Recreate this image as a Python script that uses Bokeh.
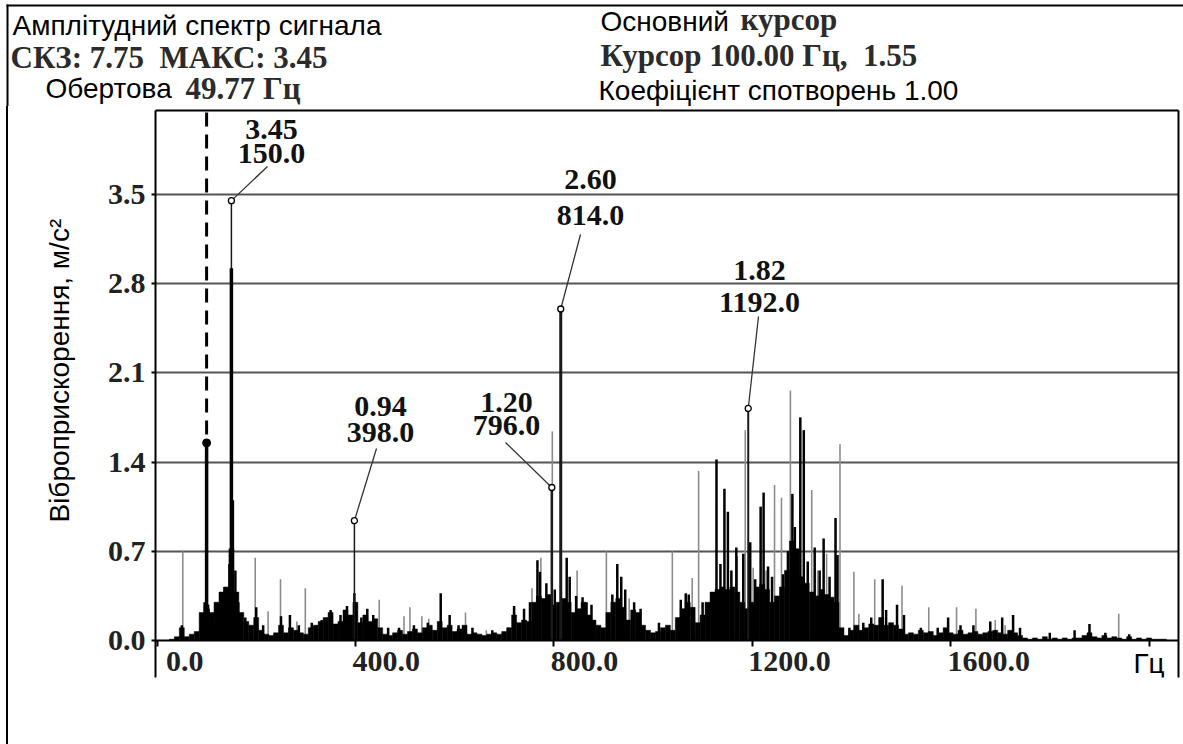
from bokeh.plotting import figure
from bokeh.layouts import column
from bokeh.models import (LinearAxis, FixedTicker, PrintfTickFormatter, Range1d,
                          ColumnDataSource)
from bokeh.core.properties import value
from bokeh.embed import file_html
from bokeh.resources import INLINE

# ---------------- data ----------------
title_text = "Амплітудний спектр сигнала"
skz = 7.75
maks = 3.45
obert_hz = 49.77
cursor_hz = 100.0
cursor_amp = 1.55
koef = 1.00
y_title = "Віброприскорення, м/с²"
x_unit = "Гц"

ytick_values = [0.0, 0.7, 1.4, 2.1, 2.8, 3.5]
grid_values = [0.7, 1.4, 2.1, 2.8, 3.5]
xtick_values = [0, 400, 800, 1200, 1600]
xtick_labels = ["0.0", "400.0", "800.0", "1200.0", "1600.0"]
xtick_marks = [0, 400, 800, 1200, 1600, 2000]

# dense low-level spectrum (black), every 10 Hz from 0 Hz
floor_hz = list(range(0, 2050, 10))
floor_amp = [
    0.00, 0.00, 0.00, 0.01, 0.03, 0.10, 0.03, 0.05, 0.07, 0.22,
    0.28, 0.22, 0.30, 0.38, 0.42, 0.72, 0.38, 0.22, 0.15, 0.12,
    0.18, 0.08, 0.05, 0.04, 0.06, 0.12, 0.06, 0.10, 0.08, 0.06,
    0.05, 0.10, 0.12, 0.15, 0.18, 0.22, 0.13, 0.15, 0.24, 0.20,
    0.30, 0.14, 0.20, 0.15, 0.17, 0.10, 0.05, 0.04, 0.06, 0.08,
    0.05, 0.07, 0.09, 0.06, 0.10, 0.12, 0.08, 0.15, 0.10, 0.12,
    0.07, 0.09, 0.12, 0.05, 0.06, 0.05, 0.04, 0.05, 0.06, 0.05,
    0.07, 0.10, 0.20, 0.14, 0.16, 0.15, 0.30, 0.35, 0.33, 0.36,
    0.28, 0.30, 0.33, 0.30, 0.22, 0.25, 0.30, 0.20, 0.16, 0.12,
    0.10, 0.22, 0.30, 0.33, 0.26, 0.16, 0.24, 0.22, 0.12, 0.08,
    0.06, 0.07, 0.10, 0.12, 0.08, 0.18, 0.25, 0.30, 0.26, 0.14,
    0.20, 0.30, 0.38, 0.40, 0.42, 0.40, 0.42, 0.38, 0.30, 0.25,
    0.30, 0.42, 0.44, 0.40, 0.30, 0.35, 0.42, 0.55, 0.78, 0.72,
    0.50, 0.45, 0.38, 0.35, 0.40, 0.36, 0.34, 0.30, 0.10, 0.04,
    0.08, 0.12, 0.08, 0.10, 0.13, 0.12, 0.18, 0.12, 0.14, 0.12,
    0.09, 0.05, 0.06, 0.05, 0.08, 0.06, 0.07, 0.04, 0.06, 0.10,
    0.06, 0.05, 0.08, 0.05, 0.06, 0.07, 0.05, 0.06, 0.07, 0.08,
    0.06, 0.05, 0.08, 0.06, 0.04, 0.02, 0.01, 0.02, 0.01, 0.03,
    0.01, 0.02, 0.01, 0.02, 0.01, 0.02, 0.02, 0.04, 0.06, 0.03,
    0.02, 0.04, 0.02, 0.03, 0.02, 0.01, 0.03, 0.01, 0.02, 0.01,
    0.02, 0.01, 0.01, 0.01, 0.00,
]

# individual black spectral lines
black_hz = [50, 96, 104, 118, 126, 136, 146, 153, 158, 164,
            178, 200, 214, 250, 268, 286, 312, 332, 350, 370,
            383, 398, 412, 424, 436, 466, 488, 518, 546, 572,
            590, 608, 636, 676, 708, 720, 740, 752, 767, 772,
            785, 802, 826, 832, 845, 858, 866, 876, 918, 928,
            936, 944, 962, 975, 1012, 1056, 1066, 1072, 1100, 1128,
            1136, 1144, 1151, 1158, 1168, 1182, 1196, 1206, 1217, 1223,
            1232, 1240, 1262, 1272, 1281, 1286, 1297, 1304, 1312, 1326,
            1336, 1344, 1356, 1368, 1372, 1396, 1424, 1440, 1463, 1470,
            1492, 1506, 1540, 1574, 1595, 1620, 1646, 1680, 1704, 1726,
            1740, 1800, 1850, 1880, 1912, 1960]
black_amp = [0.12, 0.30, 0.25, 0.10, 0.20, 0.42, 0.60, 1.10, 0.55, 0.30,
             0.18, 0.26, 0.12, 0.19, 0.20, 0.12, 0.14, 0.16, 0.24, 0.20,
             0.27, 0.37, 0.18, 0.25, 0.20, 0.10, 0.10, 0.12, 0.14, 0.37,
             0.20, 0.12, 0.10, 0.08, 0.10, 0.27, 0.25, 0.30, 0.63, 0.54,
             0.45, 0.40, 0.65, 0.50, 0.35, 0.34, 0.30, 0.28, 0.36, 0.60,
             0.50, 0.40, 0.30, 0.25, 0.14, 0.32, 0.37, 0.36, 0.30, 1.42,
             0.60, 1.19, 1.01, 0.55, 0.73, 0.68, 0.77, 0.48, 1.05, 1.16,
             0.58, 0.50, 0.52, 0.70, 1.15, 0.89, 1.75, 1.65, 0.62, 0.73,
             0.55, 0.80, 0.50, 0.96, 0.67, 0.10, 0.14, 0.18, 0.48, 0.24,
             0.28, 0.20, 0.10, 0.10, 0.18, 0.12, 0.12, 0.15, 0.18, 0.20,
             0.10, 0.06, 0.08, 0.13, 0.06, 0.05]

# lines of the second (grey) trace
gray_hz = [52, 198, 224, 249, 282, 299, 448, 498, 510, 534,
           548, 622, 664, 719, 756, 774, 797, 847, 906, 952,
           1039, 1079, 1092, 1170, 1186, 1202, 1228, 1245, 1259, 1277,
           1320, 1332, 1350, 1377, 1405, 1415, 1447, 1502, 1556, 1612,
           1651, 1690, 1710, 1939]
gray_amp = [0.70, 0.65, 0.23, 0.48, 0.15, 0.41, 0.32, 0.19, 0.26, 0.19,
            0.17, 0.22, 0.08, 0.25, 0.41, 0.65, 1.64, 0.55, 0.70, 0.33,
            0.70, 0.49, 1.33, 0.66, 1.65, 0.57, 0.55, 1.22, 1.12, 1.96,
            1.18, 0.55, 0.68, 1.54, 0.54, 0.21, 0.48, 0.43, 0.26, 0.26,
            0.25, 0.16, 0.12, 0.21]

# bold main lines
main_hz = [100, 150]
main_amp = [1.55, 2.92]

# labelled peaks
peak_hz = [150, 398, 796, 814, 1192]
peak_amp = [3.45, 0.94, 1.20, 2.60, 1.82]

# ---------------- layout ----------------
W = 1183
HEAD_H = 106
MAIN_H = 744 - HEAD_H
FRAME_L, FRAME_R, FRAME_T, FRAME_B = 155, 1178, 110, 677   # page pixels
X0_IMG, PX_PER_HZ = 156.5, 0.496
Y0_IMG, PX_PER_AMP = 640.0, 127.5


def hz_at(px):
    return (px - X0_IMG) / PX_PER_HZ


def amp_at(py):
    return (Y0_IMG - py) / PX_PER_AMP


SERIF = "Liberation Serif"
SANS = "Liberation Sans"
FS_SERIF = "30px"
FS_HEAD_SERIF = "31px"
FS_SANS = "28px"

# ---------- header figure (page pixel coordinates) ----------
h = figure(width=W, height=HEAD_H, x_range=Range1d(0, W), y_range=Range1d(HEAD_H, 0),
           output_backend="svg", toolbar_location=None,
           x_axis_location=None, y_axis_location=None,
           min_border=0)
h.frame_align = False
h.outline_line_color = None
h.xgrid.visible = False
h.ygrid.visible = False
h.segment(x0=[6, 7], y0=[5, 4], x1=[W, 7], y1=[5, HEAD_H], line_color="black",
          line_width=2)

headers = [
    (title_text, SANS, "normal", FS_SANS, "black", 12, 25),
    (f"СКЗ: {skz:.2f}\u00a0 МАКС: {maks:.2f}", SERIF, "bold", FS_HEAD_SERIF, "#2b2b2b", 10, 57),
    ("Обертова", SANS, "normal", FS_SANS, "black", 45, 88),
    (f"{obert_hz:.2f} Гц", SERIF, "bold", FS_HEAD_SERIF, "#2b2b2b", 185, 88),
    ("Основний", SANS, "normal", FS_SANS, "black", 600, 21),
    ("курсор", SERIF, "bold", FS_HEAD_SERIF, "#2b2b2b", 740, 19),
    (f"Курсор {cursor_hz:.2f} Гц,\u00a0 {cursor_amp:.2f}", SERIF, "bold", FS_HEAD_SERIF, "#2b2b2b", 600, 55),
    (f"Коефіцієнт спотворень {koef:.2f}", SANS, "normal", FS_SANS, "black", 598, 90),
]
for txt, font, style, size, color, px, py in headers:
    h.text(x=[px], y=[py], text=[txt], text_font=value(font),
           text_font_style=style, text_font_size=value(size),
           text_color=color, text_align="left", text_baseline="middle")

# ---------- main figure ----------
x_range = Range1d(hz_at(FRAME_L), hz_at(FRAME_R))
y_range = Range1d(amp_at(FRAME_B), amp_at(FRAME_T))

p = figure(width=W, height=MAIN_H, x_range=x_range, y_range=y_range,
           output_backend="svg", toolbar_location=None,
           x_axis_location=None, y_axis_location=None,
           min_border_left=FRAME_L, min_border_right=W - FRAME_R,
           min_border_top=FRAME_T - HEAD_H, min_border_bottom=744 - FRAME_B)
p.frame_align = False
p.outline_line_color = None
p.background_fill_color = "white"
p.border_fill_color = None
p.styles = {"background": "linear-gradient(to right, #ffffff 6px, #000000 6px, "
                          "#000000 8px, #ffffff 8px)"}

p.xgrid.visible = False
p.ygrid.ticker = FixedTicker(ticks=grid_values)
p.ygrid.grid_line_color = "#555555"
p.ygrid.grid_line_width = 2

# axes (leading no-break spaces lift the centred axis title to where it sits)
yax = LinearAxis(ticker=FixedTicker(ticks=ytick_values),
                 formatter=PrintfTickFormatter(format="%.1f"),
                 axis_label="\u00a0" * 6 + y_title)
yax.axis_line_width = 2
yax.major_tick_out = 4
yax.major_tick_in = 0
yax.major_tick_line_width = 2
yax.minor_tick_out = 0
yax.minor_tick_in = 0
yax.major_label_standoff = 6
yax.major_label_text_font = SERIF
yax.major_label_text_font_style = "bold"
yax.major_label_text_font_size = FS_SERIF
yax.major_label_text_color = "#222222"
yax.axis_label_text_font = SANS
yax.axis_label_text_font_style = "normal"
yax.axis_label_text_font_size = FS_SANS
yax.axis_label_text_color = "black"
yax.axis_label_standoff = 30
p.add_layout(yax, "left")

xax = LinearAxis(ticker=FixedTicker(ticks=xtick_marks), fixed_location=0)
xax.axis_line_width = 2
xax.major_tick_out = 6
xax.major_tick_in = 0
xax.major_tick_line_width = 2
xax.minor_tick_out = 0
xax.minor_tick_in = 0
xax.major_label_text_color = None
p.add_layout(xax, "below")

for side in ("right", "above"):
    ax = LinearAxis(ticker=FixedTicker(ticks=[]))
    ax.axis_line_width = 2
    ax.major_tick_out = 0
    ax.major_tick_in = 0
    ax.minor_tick_out = 0
    ax.minor_tick_in = 0
    ax.major_label_standoff = 0
    ax.major_label_text_color = None
    p.add_layout(ax, side)

# spectrum
p.segment(x0=gray_hz, y0=[0] * len(gray_hz), x1=gray_hz, y1=gray_amp,
          line_color="#8c8c8c", line_width=1.6)
p.vbar(x=floor_hz, width=10, bottom=0, top=floor_amp,
       fill_color="black", line_color="black", line_width=0.5)
p.segment(x0=black_hz, y0=[0] * len(black_hz), x1=black_hz, y1=black_amp,
          line_color="black", line_width=2.5)
p.segment(x0=peak_hz, y0=[0] * len(peak_hz), x1=peak_hz, y1=peak_amp,
          line_color="#1a1a1a", line_width=[1.5, 1.5, 2.5, 3.0, 2.0])
p.segment(x0=main_hz, y0=[0] * len(main_hz), x1=main_hz, y1=main_amp,
          line_color="black", line_width=3.5)

# cursor
p.segment(x0=[cursor_hz], y0=[amp_at(112)], x1=[cursor_hz], y1=[cursor_amp],
          line_color="black", line_width=3, line_dash="14 8")
p.scatter(x=[cursor_hz], y=[cursor_amp], marker="circle", size=8,
          fill_color="black", line_color="black")

# peak markers, leaders, labels
label_px = [271, 380, 506, 590, 759]
amp_py = [129, 406, 402, 179, 270]
hz_py = [153, 432, 425, 215, 302]
lead_px = [267, 376, 505, 580, 758]
lead_py = [166, 448, 442, 234, 316]

p.segment(x0=[hz_at(v) for v in lead_px], y0=[amp_at(v) for v in lead_py],
          x1=peak_hz, y1=peak_amp, line_color="#333333", line_width=1.3)
p.scatter(x=peak_hz, y=peak_amp, marker="circle", size=6,
          fill_color="white", line_color="black", line_width=1.3)

lab_src = ColumnDataSource(dict(
    x=[hz_at(v) for v in label_px],
    ya=[amp_at(v) for v in amp_py],
    yh=[amp_at(v) for v in hz_py],
    ta=[f"{a:.2f}" for a in peak_amp],
    th=[f"{hz:.1f}" for hz in peak_hz],
))
for ycol, tcol in (("ya", "ta"), ("yh", "th")):
    p.text(x="x", y=ycol, text=tcol, source=lab_src,
           text_font=value(SERIF), text_font_style="bold",
           text_font_size=value(FS_SERIF), text_color="#111111",
           text_align="center", text_baseline="middle")

# x tick labels
xoffs = [9, -3, -3, -4, -3]
xt_src = ColumnDataSource(dict(x=xtick_values, y=[amp_at(661)] * len(xtick_values),
                               t=xtick_labels, off=xoffs))
p.text(x="x", y="y", text="t", x_offset="off", source=xt_src,
       text_font=value(SERIF), text_font_style="bold",
       text_font_size=value(FS_SERIF), text_color="#222222",
       text_align="left", text_baseline="middle")
p.text(x=[xtick_marks[-1]], y=[amp_at(663)], text=[x_unit],
       text_font=value(SANS), text_font_size=value(FS_SANS),
       text_color="black", text_align="center", text_baseline="middle")

layout = column(h, p, spacing=0)
open("out.html", "w").write(file_html(layout, INLINE))
